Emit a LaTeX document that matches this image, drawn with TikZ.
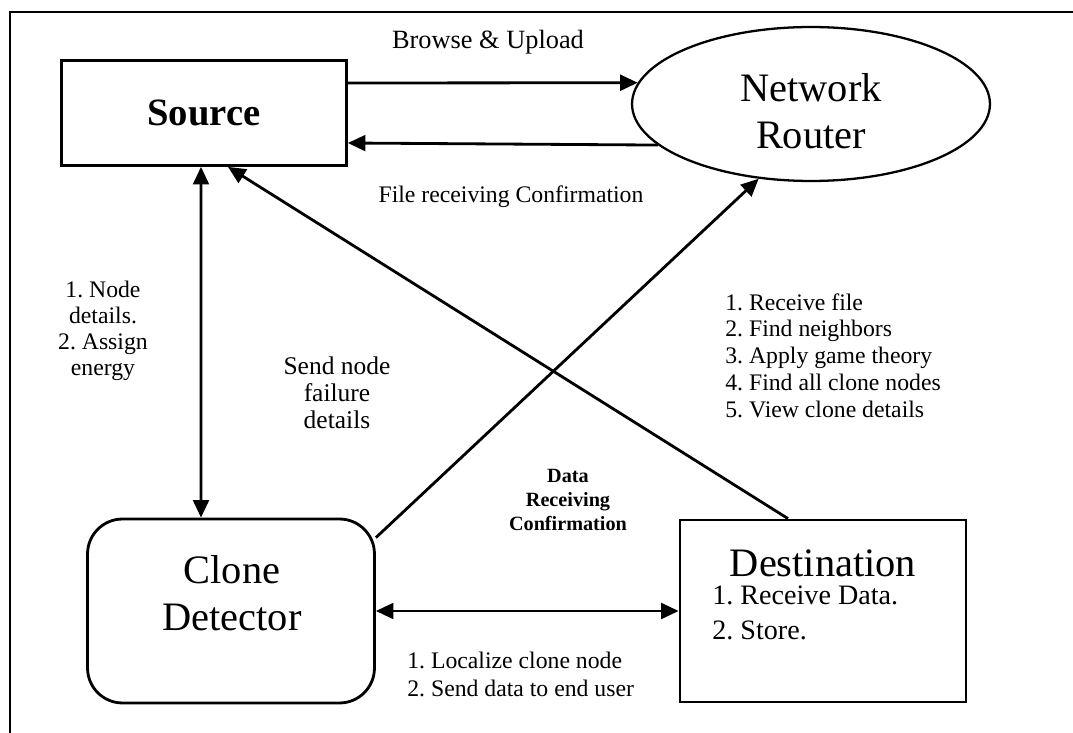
\documentclass[tikz,border=0pt]{standalone}
\usepackage{fontspec}
\setmainfont{Liberation Serif}
\usetikzlibrary{arrows.meta,shapes.geometric}
\frenchspacing

\tikzset{
  box/.style={draw, line width=1.6pt, inner sep=0pt, align=center},
  title/.style={inner sep=0pt, align=center, font=\fontsize{23}{26.5}\selectfont},
  flow/.style={line width=1.6pt, -{Triangle[length=10pt,width=9pt]}},
  dflow/.style={line width=1.6pt, {Triangle[length=10pt,width=9pt]}-{Triangle[length=10pt,width=9pt]}},
  lbl/.style={inner sep=0pt, align=center, font=\fontsize{13.5}{15.3}\selectfont},
}

\begin{document}
\begin{tikzpicture}[x=0.02cm, y=-0.02cm]
\useasboundingbox (0,0) rectangle (1073,733);

% frame lines
\draw[line width=1.1pt] (10,733) -- (10,12) -- (1073,12);

% main blocks
\node[box, minimum width=5.7cm, minimum height=2.1cm, font=\fontsize{22}{26}\selectfont\bfseries] (src) at (204,113) {Source};
\node[box, ellipse, line width=1.3pt, minimum width=7.16cm, minimum height=3.08cm] (router) at (811,104) {};
\node[title] (routername) at (811,111) {Network\\Router};
\node[box, rounded corners=0.7cm, minimum width=5.74cm, minimum height=3.68cm] (clone) at (231,611) {};
\node[title] (clonename) at (232,593) {Clone\\Detector};
\node[box, minimum width=5.72cm, minimum height=3.64cm] (dest) at (823,611) {};
\node[title] (destname) at (823,563) {Destination};
\node[lbl, anchor=north west, align=left, font=\fontsize{16}{19.5}\selectfont] (desttasks) at (712,586) {1. Receive Data.\\2. Store.};

% connectors
\draw[flow] ([yshift=0.6cm]src.east) -- (router.173);
\draw[flow] (router.195) -- ([yshift=-0.6cm]src.east);
\draw[dflow] ([xshift=-0.06cm]src.south) -- ([xshift=-0.6cm]clone.north);
\draw[flow] ([xshift=-0.7cm]dest.north) -- ([xshift=0.48cm]src.south);
\draw[flow] ([yshift=-0.4cm]clone.north east) -- (router.235);
\draw[dflow] (clone.east) -- (dest.west);

% labels
\node[lbl, font=\fontsize{15}{18}\selectfont] (upload) at (488,42) {Browse \& Upload};
\node[lbl] (fileconf) at (511,197) {File receiving Confirmation};
\node[lbl, font=\fontsize{13.5}{14.8}\selectfont] (nodeinfo) at (103,331) {1. Node\\details.\\2. Assign\\energy};
\node[lbl, font=\fontsize{14.5}{15.3}\selectfont] (failure) at (337,393) {Send node\\failure\\details};
\node[lbl, font=\fontsize{11.5}{13.6}\selectfont\bfseries] (dataconf) at (568,500) {Data\\Receiving\\Confirmation};
\node[lbl, anchor=north west, align=left] (steps) at (725,293) {1. Receive file\\2. Find neighbors\\3. Apply game theory\\4. Find all clone nodes\\5. View clone details};
\node[lbl, anchor=north west, align=left, font=\fontsize{13.5}{16}\selectfont] (localize) at (407,652) {1. Localize clone node\\2. Send data to end user};

\end{tikzpicture}
\end{document}
